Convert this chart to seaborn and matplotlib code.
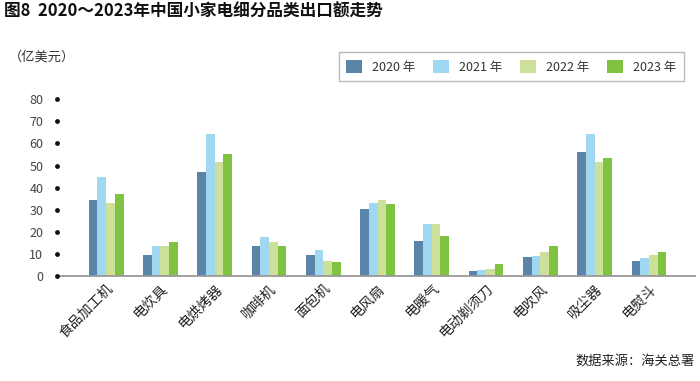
import pandas as pd
import matplotlib
matplotlib.use("Agg")
import matplotlib.pyplot as plt
import matplotlib.transforms as mtransforms
import seaborn as sns

# data (亿美元)
categories = ["食品加工机", "电炊具", "电烘烤器", "咖啡机", "面包机", "电风扇",
              "电暖气", "电动剃须刀", "电吹风", "吸尘器", "电熨斗"]
years = ["2020 年", "2021 年", "2022 年", "2023 年"]
v2020 = [34.2, 9.7, 47.2, 13.4, 9.7, 30.3, 15.7, 2.3, 8.4, 56.1, 6.9]
v2021 = [45.0, 13.4, 64.3, 17.5, 11.6, 33.0, 23.7, 2.7, 9.0, 64.3, 8.0]
v2022 = [33.0, 13.4, 51.6, 15.2, 6.6, 34.4, 23.4, 3.0, 10.9, 51.6, 9.5]
v2023 = [37.3, 15.2, 55.1, 13.4, 6.3, 32.6, 18.1, 5.3, 13.4, 53.2, 10.9]
yticks = [0, 10, 20, 30, 40, 50, 60, 70, 80]

colors = ["#5b84a9", "#9fd8f0", "#cde09a", "#80c241"]

rows = []
for yr, vals in zip(years, [v2020, v2021, v2022, v2023]):
    for c, v in zip(categories, vals):
        rows.append({"category": c, "year": yr, "value": v})
df = pd.DataFrame(rows)

sns.set_theme(style="white")
plt.rcParams["font.family"] = ["Noto Sans CJK SC", "DejaVu Sans"]

fig = plt.figure(figsize=(7, 3.81), dpi=100)
ax = fig.add_axes([60 / 700, 105 / 381, 635 / 700, (276 - 99.3) / 381])

sns.barplot(data=df, x="category", y="value", hue="year", palette=colors,
            width=0.64, ax=ax, saturation=1, edgecolor="none")

ax.set_xlim(-0.85, 10.85)
ax.set_ylim(0, 80)
ax.set_yticks(yticks)
ax.set_yticklabels([str(t) for t in yticks], fontsize=9, color="#444444")
ax.tick_params(axis="y", length=0, pad=12)
ax.tick_params(axis="x", length=0, pad=4)
ax.set_xticks(range(len(categories)))
ax.set_xticklabels(categories, rotation=45, ha="right", rotation_mode="anchor",
                   fontsize=10, color="#222222")
ax.set_xlabel("")
ax.set_ylabel("")

for s in ["top", "right", "left"]:
    ax.spines[s].set_visible(False)
ax.spines["bottom"].set_color("#999999")
ax.spines["bottom"].set_linewidth(1.3)

# dot markers beside the y tick labels
trans = mtransforms.blended_transform_factory(ax.transAxes, ax.transData)
ax.scatter([-0.005] * len(yticks), yticks, s=6, color="#111111",
           transform=trans, clip_on=False, zorder=5)

leg = ax.get_legend()
handles = leg.legend_handles
leg.remove()
fig.legend(handles, years, loc="upper right",
           bbox_to_anchor=(684 / 700, 1 - 52 / 381), ncol=4, frameon=True,
           fancybox=False, edgecolor="#aaaaaa", fontsize=9,
           handlelength=1.3, handleheight=1.3, handletextpad=0.8,
           columnspacing=1.4, borderpad=0.6, borderaxespad=0,
           labelcolor="#333333")

fig.text(0.005, 1 - 12 / 381, "图8  2020～2023年中国小家电细分品类出口额走势",
         fontsize=12, fontweight="bold", va="center", ha="left", color="#111111")
fig.text(0.012, 1 - 57 / 381, "（亿美元）", fontsize=9.5, va="center", ha="left",
         color="#333333")
fig.text(695 / 700, 1 - 361 / 381, "数据来源：海关总署", fontsize=9.5,
         va="center", ha="right", color="#222222")

fig.savefig("out.png", dpi=100)
